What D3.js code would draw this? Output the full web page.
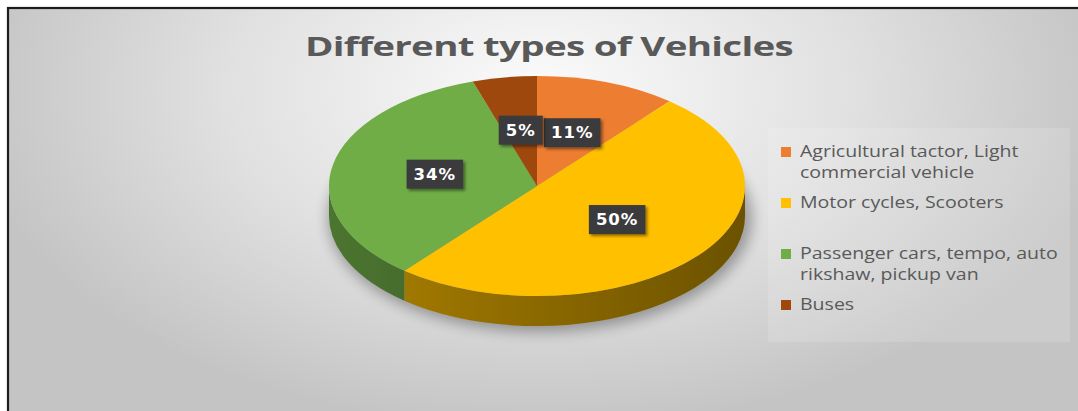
<!DOCTYPE html>
<html>
<head>
<meta charset="utf-8">
<script src="https://cdn.jsdelivr.net/npm/d3@7"></script>
<style>
  body { margin: 0; background: #fff; }
  svg { display: block; }
</style>
</head>
<body>
<svg id="chart"></svg>
<script>
// data
var categories = ["Agricultural tactor, Light commercial vehicle", "Motor cycles, Scooters", "Passenger cars, tempo, auto rikshaw, pickup van", "Buses"]
var shares = [11, 50, 34, 5]
var colors = ["#ED7D31", "#FFC000", "#70AD47", "#9E480E"]
var legendLines = [["Agricultural tactor, Light", "commercial vehicle"], ["Motor cycles, Scooters"], ["Passenger cars, tempo, auto", "rikshaw, pickup van"], ["Buses"]]
var title = "Different types of Vehicles"

var W = 1078, H = 411
var svg = d3.select("#chart").attr("width", W).attr("height", H)
var defs = svg.append("defs")

// background gradient
var bg = defs.append("radialGradient").attr("id", "bg")
  .attr("gradientUnits", "userSpaceOnUse")
  .attr("cx", 540).attr("cy", 90).attr("r", 340)
  .attr("gradientTransform", "translate(540,90) scale(1.7,1) translate(-540,-90)")
bg.append("stop").attr("offset", 0).attr("stop-color", "#fbfbfb")
bg.append("stop").attr("offset", 0.55).attr("stop-color", "#e0e0e0")
bg.append("stop").attr("offset", 1).attr("stop-color", "#c4c4c4")

svg.append("rect").attr("x", 8).attr("y", 8).attr("width", W + 10).attr("height", H + 10)
  .attr("fill", "url(#bg)").attr("stroke", "#1c1c1c").attr("stroke-width", 2.2)

// filters
var blur = defs.append("filter").attr("id", "blur").attr("x", "-20%").attr("y", "-20%").attr("width", "140%").attr("height", "140%")
blur.append("feGaussianBlur").attr("stdDeviation", 7)
var drop = defs.append("filter").attr("id", "drop").attr("x", "-20%").attr("y", "-30%").attr("width", "150%").attr("height", "170%")
drop.append("feDropShadow").attr("dx", 2).attr("dy", 2).attr("stdDeviation", 1.5).attr("flood-opacity", 0.45)

// title
svg.append("text").text(title)
  .attr("x", 549).attr("y", 56)
  .attr("text-anchor", "middle")
  .attr("textLength", 488).attr("lengthAdjust", "spacingAndGlyphs")
  .style("font-family", "'Open Sans', sans-serif")
  .style("font-weight", "bold")
  .style("font-size", "27px")
  .style("letter-spacing", "-0.5px")
  .style("fill", "#595959")

// pie geometry
var cx = 537, cy = 186, rx = 208, ry = 110, depth = 30
var pie = d3.pie().sort(null).value(d => d)
var arcs = pie(shares)
var pt = (a, dy) => [cx + rx * Math.sin(a), cy - ry * Math.cos(a) + (dy || 0)]

// shadow under the pie
svg.append("ellipse")
  .attr("cx", cx + 3).attr("cy", cy + depth + 2)
  .attr("rx", rx + 4).attr("ry", ry + 4)
  .attr("fill", "#000").attr("opacity", 0.32)
  .attr("filter", "url(#blur)")

// side walls (front half only)
arcs.forEach((d, i) => {
  var s = Math.max(d.startAngle, Math.PI / 2)
  var e = Math.min(d.endAngle, Math.PI * 1.5)
  if (s >= e) return
  var base = d3.color(colors[i])
  var g = defs.append("linearGradient").attr("id", "side" + i)
    .attr("gradientUnits", "userSpaceOnUse")
    .attr("x1", cx - rx).attr("x2", cx + rx).attr("y1", 0).attr("y2", 0)
  g.append("stop").attr("offset", 0).attr("stop-color", base.darker(1.1))
  g.append("stop").attr("offset", 0.35).attr("stop-color", base.darker(1.5))
  g.append("stop").attr("offset", 1).attr("stop-color", base.darker(2.4))
  var p0 = pt(s), p1 = pt(e), q1 = pt(e, depth), q0 = pt(s, depth)
  var path = "M" + p0 + "A" + rx + "," + ry + " 0 0 1 " + p1 +
    "L" + q1 + "A" + rx + "," + ry + " 0 0 0 " + q0 + "Z"
  svg.append("path").attr("d", path).attr("fill", "url(#side" + i + ")")
})

// top surface
svg.selectAll("path.slice").data(arcs).enter().append("path")
  .attr("class", "slice")
  .attr("fill", (d, i) => colors[i])
  .attr("d", d => {
    var large = d.endAngle - d.startAngle > Math.PI ? 1 : 0
    return "M" + cx + "," + cy + "L" + pt(d.startAngle) +
      "A" + rx + "," + ry + " 0 " + large + " 1 " + pt(d.endAngle) + "Z"
  })

// data labels
var labels = svg.selectAll("g.lab").data(arcs).enter().append("g").attr("class", "lab")
labels.each(function (d) {
  var mid = (d.startAngle + d.endAngle) / 2
  var x = cx + 0.5 * rx * Math.sin(mid)
  var y = cy - 0.5 * ry * Math.cos(mid) - 2
  var g = d3.select(this).attr("transform", "translate(" + x + "," + y + ")")
  var box = g.append("rect").attr("fill", "#3a3a3c").attr("filter", "url(#drop)")
  var t = g.append("text").text(d.data + "%")
    .attr("text-anchor", "middle").attr("y", 6)
    .style("font-family", "'DejaVu Sans', sans-serif")
    .style("font-weight", "bold").style("font-size", "16.5px")
    .style("letter-spacing", "1px")
    .style("fill", "#fff")
  var w = t.node().getComputedTextLength() + 14
  box.attr("x", -w / 2).attr("y", -14).attr("width", w).attr("height", 29)
})

// legend
svg.append("rect").attr("x", 768).attr("y", 128).attr("width", 302).attr("height", 214)
  .attr("fill", "#fff").attr("opacity", 0.14)

var legendY = d3.scalePoint().domain(categories).range([157, 310])
var items = svg.selectAll("g.legend").data(categories).enter().append("g")
  .attr("class", "legend")
  .attr("transform", d => "translate(781," + legendY(d) + ")")
items.append("rect").attr("x", 0).attr("y", -10).attr("width", 10).attr("height", 10)
  .attr("fill", (d, i) => colors[i])
items.each(function (d, i) {
  d3.select(this).append("g").attr("transform", "translate(19,0) scale(1.15,1)")
    .selectAll("text").data(legendLines[i]).enter().append("text")
    .text(t => t)
    .attr("x", 0).attr("y", (t, j) => j * 21)
    .style("font-family", "'Open Sans', sans-serif")
    .style("font-size", "17px")
    .style("fill", "#595959")
})
</script>
</body>
</html>
